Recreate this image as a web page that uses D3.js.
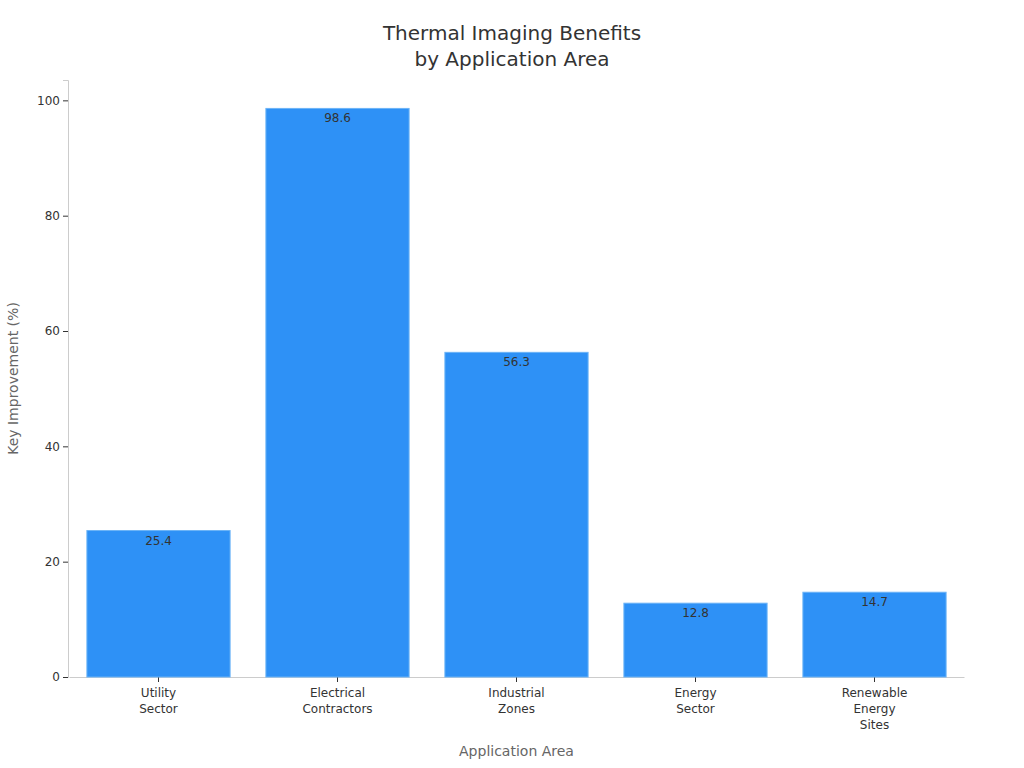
<!DOCTYPE html>
<html>
<head>
<meta charset="utf-8">
<script src="https://cdn.jsdelivr.net/npm/d3@7"></script>
<style>
  body { margin: 0; background: #fff; }
  svg, svg text { font-family: "DejaVu Sans", sans-serif; }
</style>
</head>
<body>
<script>
// DATA
var categories = ["Utility Sector", "Electrical Contractors", "Industrial Zones", "Energy Sector", "Renewable Energy Sites"];
var values = [25.4, 98.6, 56.3, 12.8, 14.7];
var yTicks = [0, 20, 40, 60, 80, 100];

var data = categories.map(function(c, i) { return {cat: c, value: values[i]}; });

// svg + margins
var svg = d3.select("body").append("svg")
    .attr("width", 1024)
    .attr("height", 768);

const margin = {top: 80, right: 61, bottom: 91, left: 68};
const width = 1024 - margin.left - margin.right;
const height = 768 - margin.top - margin.bottom;

// scales
const x = d3.scaleBand()
    .domain(categories)
    .range([1, width + 1])
    .paddingInner(0.2)
    .paddingOuter(0.1);

const y = d3.scaleLinear()
    .domain([0, d3.max(values) * 1.05])
    .range([height, 0]);

const g = svg.append("g")
    .attr("transform", "translate(" + margin.left + "," + margin.top + ")");

// y axis
const yAx = g.append("g")
    .call(d3.axisLeft(y).tickValues(yTicks).tickSize(5).tickPadding(3))
    .attr("font-family", "DejaVu Sans, sans-serif");
yAx.select(".domain").attr("stroke", "#ccc");
yAx.selectAll(".tick line").attr("stroke", "#333");
yAx.selectAll(".tick text").attr("fill", "#333").style("font-size", "12px");

// x axis
const xAx = g.append("g")
    .attr("transform", "translate(0," + height + ")")
    .call(d3.axisBottom(x).tickSize(5).tickPadding(6).tickSizeOuter(0))
    .attr("font-family", "DejaVu Sans, sans-serif");
xAx.select(".domain").attr("stroke", "#ccc");
xAx.selectAll(".tick line").attr("stroke", "#333");
xAx.selectAll(".tick text")
    .attr("fill", "#333")
    .style("font-size", "12px")
    .each(function(d) {
        var t = d3.select(this);
        var words = d.split(" ");
        t.text(null);
        words.forEach(function(w, i) {
            t.append("tspan")
                .attr("x", 0)
                .attr("dy", i === 0 ? "0.71em" : "1.35em")
                .text(w);
        });
    });

// bars
g.selectAll("rect.bar").data(data)
    .enter()
    .append("rect")
    .attr("class", "bar")
    .attr("x", d => x(d.cat))
    .attr("y", d => y(d.value))
    .attr("width", x.bandwidth())
    .attr("height", d => height - y(d.value))
    .attr("fill", "#2e91f6")
    .attr("stroke", "#6bb3f7")
    .attr("stroke-width", 1);

// value labels
g.selectAll("text.val").data(data)
    .enter()
    .append("text")
    .attr("class", "val")
    .attr("x", d => x(d.cat) + x.bandwidth() / 2)
    .attr("y", d => y(d.value) + 14)
    .attr("text-anchor", "middle")
    .attr("fill", "#333")
    .style("font-size", "12px")
    .text(d => d.value);

// titles
svg.append("text")
    .attr("x", 512).attr("y", 40)
    .attr("text-anchor", "middle")
    .attr("fill", "#333")
    .style("font-size", "20px")
    .text("Thermal Imaging Benefits");
svg.append("text")
    .attr("x", 512).attr("y", 66)
    .attr("text-anchor", "middle")
    .attr("fill", "#333")
    .style("font-size", "20px")
    .text("by Application Area");

svg.append("text")
    .attr("x", margin.left + width / 2 + 1).attr("y", 756)
    .attr("text-anchor", "middle")
    .attr("fill", "#666")
    .style("font-size", "14px")
    .text("Application Area");

svg.append("text")
    .attr("transform", "translate(18," + (margin.top + height / 2) + ") rotate(-90)")
    .attr("text-anchor", "middle")
    .attr("fill", "#666")
    .style("font-size", "14px")
    .text("Key Improvement (%)");
</script>
</body>
</html>
